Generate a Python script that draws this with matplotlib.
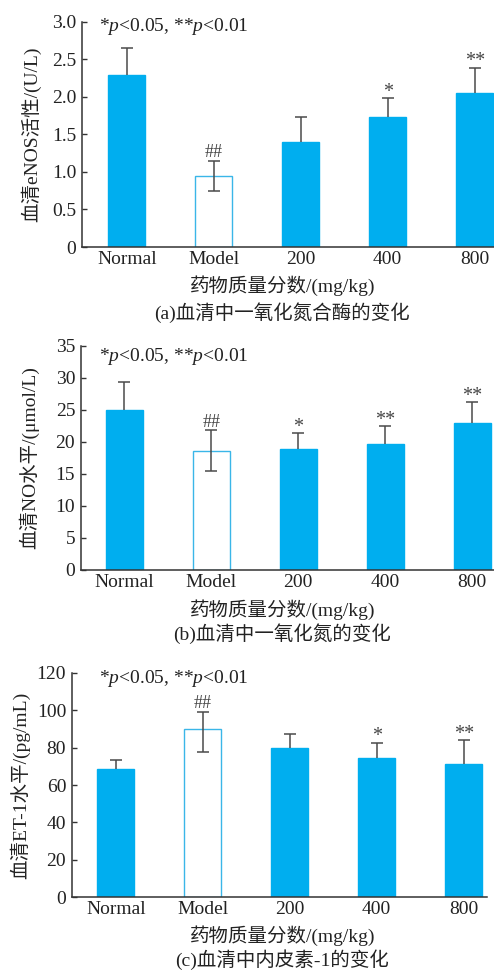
import matplotlib
matplotlib.use("Agg")
import matplotlib.pyplot as plt
import numpy as np

plt.rcParams['font.family'] = ['Liberation Serif', 'Noto Sans CJK SC']
plt.rcParams['mathtext.fontset'] = 'custom'
plt.rcParams['mathtext.rm'] = 'Liberation Serif'
plt.rcParams['mathtext.it'] = 'Liberation Serif:italic'

# ---------------- data ----------------
groups = ['Normal', 'Model', '200', '400', '800']

enos_mean = [2.29, 0.94, 1.40, 1.73, 2.05]
enos_err_up = [0.36, 0.21, 0.33, 0.25, 0.34]
enos_err_down = [0.0, 0.19, 0.0, 0.0, 0.0]
enos_sig = ['', '##', '', '*', '**']

no_mean = [24.9, 18.6, 18.9, 19.6, 22.9]
no_err_up = [4.4, 3.2, 2.4, 2.8, 3.3]
no_err_down = [0.0, 3.1, 0.0, 0.0, 0.0]
no_sig = ['', '##', '*', '**', '**']

et_mean = [68.5, 89.7, 79.6, 74.2, 71.2]
et_err_up = [4.8, 9.4, 7.5, 8.4, 12.8]
et_err_down = [0.0, 12.3, 0.0, 0.0, 0.0]
et_sig = ['', '##', '', '*', '**']

enos_ticks = [0, 0.5, 1.0, 1.5, 2.0, 2.5, 3.0]
enos_ticklabels = ['0', '0.5', '1.0', '1.5', '2.0', '2.5', '3.0']
no_ticks = [0, 5, 10, 15, 20, 25, 30, 35]
et_ticks = [0, 20, 40, 60, 80, 100, 120]

xlabel = '药物质量分数/(mg/kg)'
note = r'*$p$<0.05, **$p$<0.01'

# ---------------- style ----------------
W, H = 494, 971
BAR = '#00AEEF'
MODEL_EDGE = '#3AB6E8'
ERR = '#4a4a4a'
TXT = '#222222'

fig = plt.figure(figsize=(W / 100, H / 100), dpi=100)


def px(x, y):
    return x / W, 1 - y / H


def panel(rect, xlim, mean, up, down, sig, yticks, yticklabels, ylim, ylabel,
          ylab_x, note_y, xlab_y, cap_y, caption):
    ax = fig.add_axes(rect)
    x = np.arange(len(groups))
    colors = [BAR if g != 'Model' else 'white' for g in groups]
    edges = [BAR if g != 'Model' else MODEL_EDGE for g in groups]
    ax.bar(x, mean, width=0.425, color=colors, edgecolor=edges,
           linewidth=1.0, zorder=2)
    eb = ax.errorbar(x, mean, yerr=[down, up], fmt='none', ecolor=ERR,
                     elinewidth=1.1, capsize=4, capthick=1.1, zorder=3)
    # hide caps sitting on the bar top where there is no lower error
    mean_arr = np.asarray(mean, float)
    for cl in eb[1]:
        yd = np.asarray(cl.get_ydata(), float)
        xd = np.asarray(cl.get_xdata(), float)
        mask = np.isclose(yd, mean_arr)
        yd = np.where(mask, np.nan, yd)
        cl.set_data(xd, yd)
    for xi, m, u, s in zip(x, mean, up, sig):
        if not s:
            continue
        if s.startswith('#'):
            ax.annotate(s, (xi, m + u), xytext=(0, 2.5), textcoords='offset points',
                        ha='center', va='baseline', fontsize=13, color='#444444')
        else:
            ax.annotate(s, (xi, m + u), xytext=(0, 1.0), textcoords='offset points',
                        ha='center', va='baseline', fontsize=14.5, color='#444444')
    ax.set_xlim(*xlim)
    ax.set_ylim(*ylim)
    ax.set_xticks(x)
    ax.set_xticklabels(groups, fontsize=14, color=TXT)
    ax.set_yticks(yticks)
    ax.set_yticklabels(yticklabels, fontsize=14, color=TXT)
    ax.tick_params(axis='x', length=0, pad=3)
    ax.tick_params(axis='y', direction='in', length=3.5, width=1.0, pad=4,
                   color='#333333')
    for s in ['top', 'right']:
        ax.spines[s].set_visible(False)
    for s in ['left', 'bottom']:
        ax.spines[s].set_linewidth(1.1)
        ax.spines[s].set_color('#333333')
    ax.set_ylabel(ylabel, fontsize=14, color=TXT)
    ax.yaxis.label.set_va('center')
    ax.yaxis.set_label_coords(ylab_x, 0.5)
    fx, fy = px(99, note_y)
    fig.text(fx, fy, note, fontsize=14, color=TXT, ha='left', va='baseline')
    fx, fy = px(283, xlab_y)
    fig.text(fx, fy, xlabel, fontsize=14, color=TXT, ha='center', va='center')
    fx, fy = px(282, cap_y)
    fig.text(fx, fy, caption, fontsize=14, color=TXT, ha='center', va='center')
    return ax


panel([82 / W, 1 - 247 / H, 412 / W, 225 / H], (-0.514, 4.222),
      enos_mean, enos_err_up, enos_err_down, enos_sig,
      enos_ticks, enos_ticklabels, (0, 3.0), '血清eNOS活性/(U/L)',
      -0.124, 30.7, 286, 313, '(a)血清中一氧化氮合酶的变化')

panel([80.7 / W, 1 - 570 / H, 413.3 / W, 224.3 / H], (-0.501, 4.25),
      no_mean, no_err_up, no_err_down, no_sig,
      no_ticks, [str(t) for t in no_ticks], (0, 35), '血清NO水平/(μmol/L)',
      -0.126, 360.7, 610, 634, '(b)血清中一氧化氮的变化')

panel([71.7 / W, 1 - 897.3 / H, 415 / W, 224.6 / H], (-0.506, 4.264),
      et_mean, et_err_up, et_err_down, et_sig,
      et_ticks, [str(t) for t in et_ticks], (0, 120), '血清ET-1水平/(pg/mL)',
      -0.1246, 683.3, 936, 960, '(c)血清中内皮素-1的变化')

fig.savefig('out.png', dpi=100)
